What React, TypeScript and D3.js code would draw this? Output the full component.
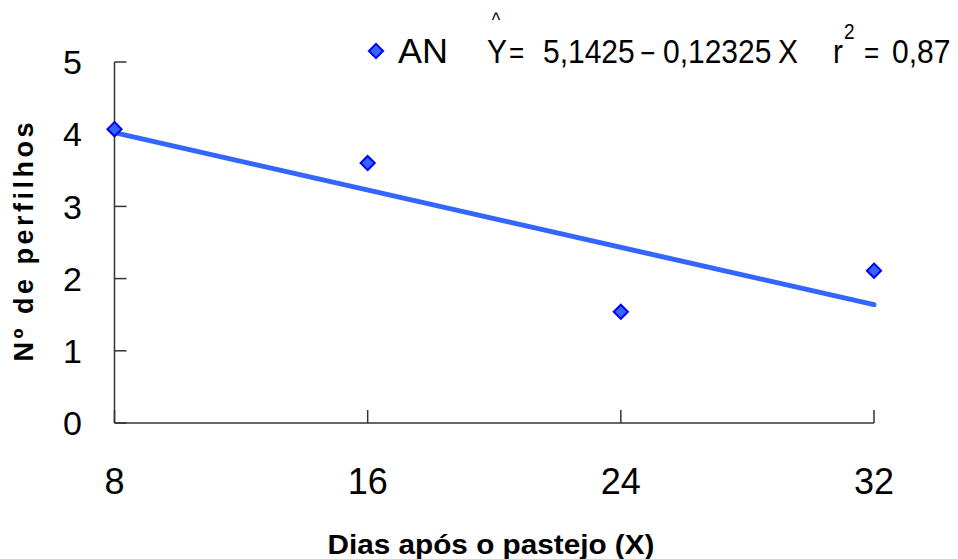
import React from 'react'
import * as d3 from 'd3'

// dias após o pastejo e nº de perfilhos
const days = [8, 16, 24, 32]
const tillers = [4.07, 3.6, 1.54, 2.11]
const yTicks = [0, 1, 2, 3, 4, 5]
const seriesName = 'AN'

const W = 958
const H = 559
const blue = '#3366FF'
const font = '"Liberation Sans", Arial, sans-serif'

const App = () => {
  const x = d3.scaleLinear().domain([8, 32]).range([114.5, 874])
  const y = d3.scaleLinear().domain([0, 5]).range([423, 62])

  // linha de tendência ajustada aos pontos
  const mx = d3.mean(days) as number
  const my = d3.mean(tillers) as number
  const sxy = d3.sum(days, (d, i) => (d - mx) * (tillers[i] - my))
  const sxx = d3.sum(days, d => (d - mx) ** 2)
  const slope = sxy / sxx
  const icpt = my - slope * mx
  const fit = d3.line<number>().x(d => x(d)).y(d => y(icpt + slope * d))

  const diamond = d3.symbol().type(d3.symbolDiamond2).size(128)

  return (
    <svg width={W} height={H} style={{ position: 'absolute', left: 0, top: 0, background: '#fff' }}
      fontFamily={font}>
      {/* eixos */}
      <line x1={x(8)} x2={x(8)} y1={y(5)} y2={y(0)} stroke="#333" strokeWidth={1.5} />
      <line x1={x(8)} x2={x(32)} y1={y(0)} y2={y(0)} stroke="#333" strokeWidth={1.5} />
      {yTicks.map(t => (
        <g key={'y' + t}>
          <line x1={x(8)} x2={x(8) + 12} y1={y(t)} y2={y(t)} stroke="#333" strokeWidth={1.5} />
          <text x={82} y={y(t)} dy="0.36em" textAnchor="end" fontSize={34}>{t}</text>
        </g>
      ))}
      {days.map(t => (
        <g key={'x' + t}>
          <line x1={x(t)} x2={x(t)} y1={y(0)} y2={y(0) - 13} stroke="#333" strokeWidth={1.5} />
          <text x={x(t)} y={494} textAnchor="middle" fontSize={36}>{t}</text>
        </g>
      ))}

      {/* títulos */}
      <text transform="translate(33,242) rotate(-90)" textAnchor="middle" fontSize={27}
        fontWeight="bold" textLength={239} lengthAdjust="spacing">Nº de perfilhos</text>
      <text x={491} y={554} textAnchor="middle" fontSize={27} fontWeight="bold"
        textLength={327} lengthAdjust="spacingAndGlyphs">Dias após o pastejo (X)</text>

      {/* regressão e pontos */}
      <path d={fit([8, 32]) as string} fill="none" stroke={blue} strokeWidth={5} strokeLinecap="round" />
      {days.map((d, i) => (
        <path key={'p' + d} d={diamond() as string} transform={`translate(${x(d)},${y(tillers[i])})`}
          fill={blue} stroke="#0000FF" strokeWidth={2} />
      ))}

      {/* legenda */}
      <path d={diamond() as string} transform="translate(376,51)" fill={blue} stroke="#0000FF" strokeWidth={2} />
      <text x={398} y={63} fontSize={35} textLength={50} lengthAdjust="spacingAndGlyphs">{seriesName}</text>
      <g transform="translate(0,63) scale(1,1.13)" fontSize={30}>
        <text x={487} y={0}>Y</text>
        <text x={496} y={-31.5} fontSize={18} textAnchor="middle">^</text>
        <text x={509} y={0} fontSize={26}>=</text>
        <text x={543} y={0}>5,1425</text>
        <text x={640} y={0} fontSize={26}>−</text>
        <text x={663} y={0}>0,12325</text>
        <text x={778} y={0}>X</text>
        <text x={833} y={0}>r</text>
        <text x={844} y={-21} fontSize={19}>2</text>
        <text x={864} y={0} fontSize={26}>=</text>
        <text x={892} y={0}>0,87</text>
      </g>
    </svg>
  )
}

export default App
